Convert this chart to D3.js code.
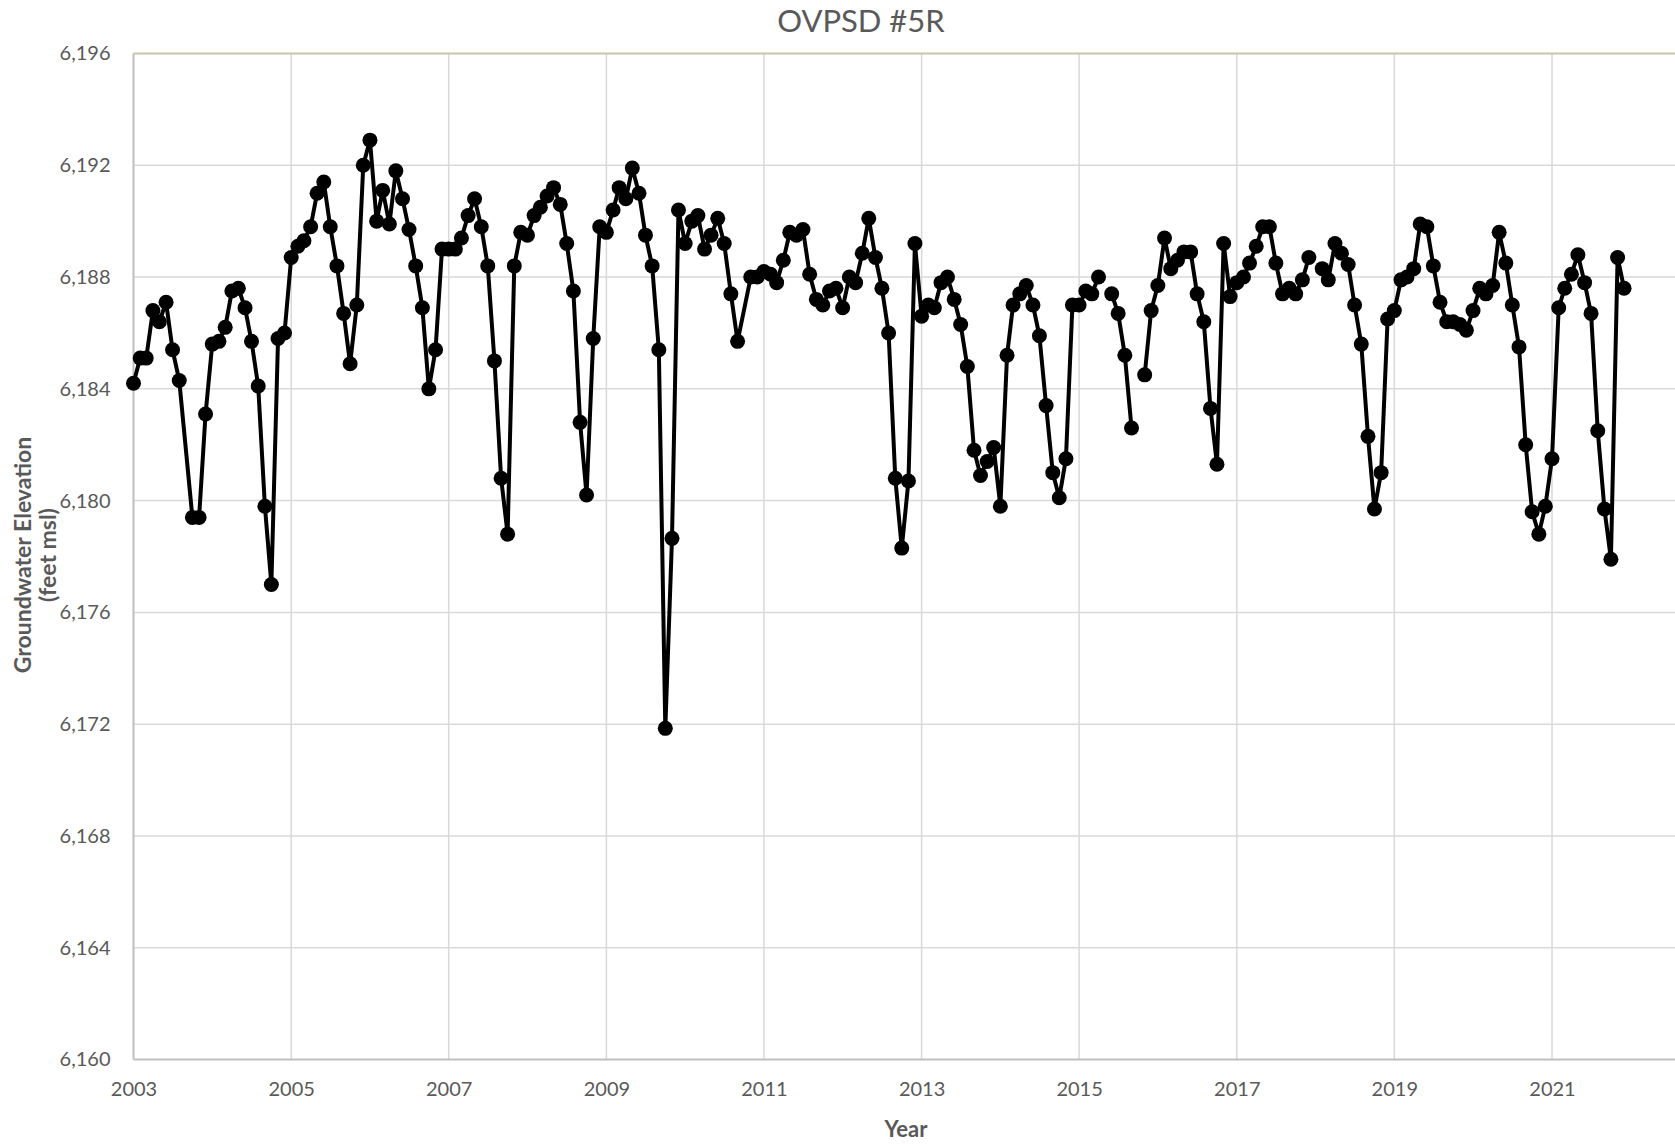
<!DOCTYPE html>
<html>
<head>
<meta charset="utf-8">
<script src="https://cdn.jsdelivr.net/npm/d3@7"></script>
<style>
  body { margin: 0; background: #fff; }
  svg { display: block; font-family: Lato, "Open Sans", sans-serif; }
</style>
</head>
<body>
<svg width="1675" height="1144"></svg>
<script>
// chart values (null = gap in the record, line breaks there)
const dates = [
  "2003-01","2003-02","2003-03","2003-04","2003-05","2003-06","2003-07","2003-08","2003-10","2003-11","2003-12",
  "2004-01","2004-02","2004-03","2004-04","2004-05","2004-06","2004-07","2004-08","2004-09","2004-10","2004-11","2004-12",
  "2005-01","2005-02","2005-03","2005-04","2005-05","2005-06","2005-07","2005-08","2005-09","2005-10","2005-11","2005-12",
  "2006-01","2006-02","2006-03","2006-04","2006-05","2006-06","2006-07","2006-08","2006-09","2006-10","2006-11","2006-12",
  "2007-01","2007-02","2007-03","2007-04","2007-05","2007-06","2007-07","2007-08","2007-09","2007-10","2007-11","2007-12",
  "2008-01","2008-02","2008-03","2008-04","2008-05","2008-06","2008-07","2008-08","2008-09","2008-10","2008-11","2008-12",
  "2009-01","2009-02","2009-03","2009-04","2009-05","2009-06","2009-07","2009-08","2009-09","2009-10","2009-11","2009-12",
  "2010-01","2010-02","2010-03","2010-04","2010-05","2010-06","2010-07","2010-08","2010-09","2010-11","2010-12",
  "2011-01","2011-02","2011-03","2011-04","2011-05","2011-06","2011-07","2011-08","2011-09","2011-10","2011-11","2011-12",
  "2012-01","2012-02","2012-03","2012-04","2012-05","2012-06","2012-07","2012-08","2012-09","2012-10","2012-11","2012-12",
  "2013-01","2013-02","2013-03","2013-04","2013-05","2013-06","2013-07","2013-08","2013-09","2013-10","2013-11","2013-12",
  "2014-01","2014-02","2014-03","2014-04","2014-05","2014-06","2014-07","2014-08","2014-09","2014-10","2014-11","2014-12",
  "2015-01","2015-02","2015-03","2015-04","2015-05","2015-06","2015-07","2015-08","2015-09","2015-10","2015-11","2015-12",
  "2016-01","2016-02","2016-03","2016-04","2016-05","2016-06","2016-07","2016-08","2016-09","2016-10","2016-11","2016-12",
  "2017-01","2017-02","2017-03","2017-04","2017-05","2017-06","2017-07","2017-08","2017-09","2017-10","2017-11","2017-12",
  "2018-01","2018-02","2018-03","2018-04","2018-05","2018-06","2018-07","2018-08","2018-09","2018-10","2018-11","2018-12",
  "2019-01","2019-02","2019-03","2019-04","2019-05","2019-06","2019-07","2019-08","2019-09","2019-10","2019-11","2019-12",
  "2020-01","2020-02","2020-03","2020-04","2020-05","2020-06","2020-07","2020-08","2020-09","2020-10","2020-11","2020-12",
  "2021-01","2021-02","2021-03","2021-04","2021-05","2021-06","2021-07","2021-08","2021-09","2021-10","2021-11","2021-12"
];

const elevations = [
  6184.2,6185.1,6185.1,6186.8,6186.4,6187.1,6185.4,6184.3,6179.4,6179.4,6183.1,
  6185.6,6185.7,6186.2,6187.5,6187.6,6186.9,6185.7,6184.1,6179.8,6177.0,6185.8,6186.0,
  6188.7,6189.1,6189.3,6189.8,6191.0,6191.4,6189.8,6188.4,6186.7,6184.9,6187.0,6192.0,
  6192.9,6190.0,6191.1,6189.9,6191.8,6190.8,6189.7,6188.4,6186.9,6184.0,6185.4,6189.0,
  6189.0,6189.0,6189.4,6190.2,6190.8,6189.8,6188.4,6185.0,6180.8,6178.8,6188.4,6189.6,
  6189.5,6190.2,6190.5,6190.9,6191.2,6190.6,6189.2,6187.5,6182.8,6180.2,6185.8,6189.8,
  6189.6,6190.4,6191.2,6190.8,6191.9,6191.0,6189.5,6188.4,6185.4,6171.85,6178.65,6190.4,
  6189.2,6190.0,6190.2,6189.0,6189.5,6190.1,6189.2,6187.4,6185.7,6188.0,6188.0,
  6188.2,6188.1,6187.8,6188.6,6189.6,6189.5,6189.7,6188.1,6187.2,6187.0,6187.5,6187.6,
  6186.9,6188.0,6187.8,6188.85,6190.1,6188.7,6187.6,6186.0,6180.8,6178.3,6180.7,6189.2,
  6186.6,6187.0,6186.9,6187.8,6188.0,6187.2,6186.3,6184.8,6181.8,6180.9,6181.4,6181.9,
  6179.8,6185.2,6187.0,6187.4,6187.7,6187.0,6185.9,6183.4,6181.0,6180.1,6181.5,6187.0,
  6187.0,6187.5,6187.4,6188.0,null,6187.4,6186.7,6185.2,6182.6,null,6184.5,6186.8,
  6187.7,6189.4,6188.3,6188.6,6188.9,6188.9,6187.4,6186.4,6183.3,6181.3,6189.2,6187.3,
  6187.8,6188.0,6188.5,6189.1,6189.8,6189.8,6188.5,6187.4,6187.6,6187.4,6187.9,6188.7,
  null,6188.3,6187.9,6189.2,6188.85,6188.45,6187.0,6185.6,6182.3,6179.7,6181.0,6186.5,
  6186.8,6187.9,6188.0,6188.3,6189.9,6189.8,6188.4,6187.1,6186.4,6186.4,6186.3,6186.1,
  6186.8,6187.6,6187.4,6187.7,6189.6,6188.5,6187.0,6185.5,6182.0,6179.6,6178.8,6179.8,
  6181.5,6186.9,6187.6,6188.1,6188.8,6187.8,6186.7,6182.5,6179.7,6177.9,6188.7,6187.6
];

const yearTicks = [2003, 2005, 2007, 2009, 2011, 2013, 2015, 2017, 2019, 2021];
const elevTicks = [6160, 6164, 6168, 6172, 6176, 6180, 6184, 6188, 6192, 6196];

const title = "OVPSD #5R";

// layout
const svg = d3.select("svg");
const margin = { left: 133.5, top: 53.5 };
const plotW = 1576; // axis runs to 2023, past the right edge of the picture
const plotH = 1006;

const parse = d3.timeParse("%Y-%m");
const data = dates.map((d, i) => ({ date: parse(d), v: elevations[i] }));

const x = d3.scaleTime()
  .domain([new Date(2003, 0, 1), new Date(2023, 0, 1)])
  .range([0, plotW]);

const y = d3.scaleLinear()
  .domain([6160, 6196])
  .range([plotH, 0]);

const g = svg.append("g")
  .attr("transform", `translate(${margin.left},${margin.top})`);

// gridlines
g.append("g")
  .selectAll("line")
  .data(elevTicks.slice(1, -1))
  .join("line")
  .attr("x1", 0)
  .attr("x2", plotW)
  .attr("y1", d => y(d))
  .attr("y2", d => y(d))
  .attr("stroke", "#d9d9d9")
  .attr("stroke-width", 1.5);

g.append("g")
  .selectAll("line")
  .data(yearTicks.slice(1))
  .join("line")
  .attr("x1", d => x(new Date(d, 0, 1)))
  .attr("x2", d => x(new Date(d, 0, 1)))
  .attr("y1", 0)
  .attr("y2", plotH)
  .attr("stroke", "#d9d9d9")
  .attr("stroke-width", 1.5);

// top border (khaki) and axis lines
g.append("line")
  .attr("x1", 0).attr("x2", plotW)
  .attr("y1", 0).attr("y2", 0)
  .attr("stroke", "#c9c5a6")
  .attr("stroke-width", 2);

g.append("line")
  .attr("x1", 0).attr("x2", 0)
  .attr("y1", 0).attr("y2", plotH)
  .attr("stroke", "#bfbfbf")
  .attr("stroke-width", 2);

g.append("line")
  .attr("x1", 0).attr("x2", plotW)
  .attr("y1", plotH).attr("y2", plotH)
  .attr("stroke", "#bfbfbf")
  .attr("stroke-width", 2);

// axes (labels only)
const fmt = d3.format(",");

const yAxis = g.append("g")
  .call(d3.axisLeft(y).tickValues(elevTicks).tickSize(0).tickPadding(23).tickFormat(fmt));
yAxis.select(".domain").remove();
yAxis.selectAll("text")
  .attr("fill", "#595959")
  .style("font-size", "20px")
  .style("font-family", "Lato, sans-serif");

const xAxis = g.append("g")
  .attr("transform", `translate(0,${plotH})`)
  .call(d3.axisBottom(x)
    .tickValues(yearTicks.map(d => new Date(d, 0, 1)))
    .tickSize(0)
    .tickPadding(22)
    .tickFormat(d3.timeFormat("%Y")));
xAxis.select(".domain").remove();
xAxis.selectAll("text")
  .attr("fill", "#595959")
  .style("font-size", "20px")
  .style("font-family", "Lato, sans-serif");

// series line + markers
const line = d3.line()
  .defined(d => d.v !== null)
  .x(d => x(d.date))
  .y(d => y(d.v));

g.append("path")
  .datum(data)
  .attr("fill", "none")
  .attr("stroke", "#000")
  .attr("stroke-width", 4)
  .attr("stroke-linejoin", "round")
  .attr("d", line);

g.append("g")
  .selectAll("circle")
  .data(data.filter(d => d.v !== null))
  .join("circle")
  .attr("cx", d => x(d.date))
  .attr("cy", d => y(d.v))
  .attr("r", 7.5)
  .attr("fill", "#000");

// titles
svg.append("text")
  .attr("x", 861)
  .attr("y", 32)
  .attr("text-anchor", "middle")
  .attr("fill", "#595959")
  .style("font-size", "31px")
  .text(title);

svg.append("text")
  .attr("x", 906)
  .attr("y", 1137)
  .attr("text-anchor", "middle")
  .attr("fill", "#595959")
  .style("font-size", "22px")
  .style("font-weight", "bold")
  .text("Year");

const yTitle = svg.append("text")
  .attr("transform", "translate(31,555) rotate(-90)")
  .attr("text-anchor", "middle")
  .attr("fill", "#595959")
  .style("font-size", "23px")
  .style("font-weight", "bold");
yTitle.append("tspan").attr("x", 0).attr("dy", 0).text("Groundwater Elevation");
yTitle.append("tspan").attr("x", 0).attr("dy", 25).text("(feet msl)");
</script>
</body>
</html>
